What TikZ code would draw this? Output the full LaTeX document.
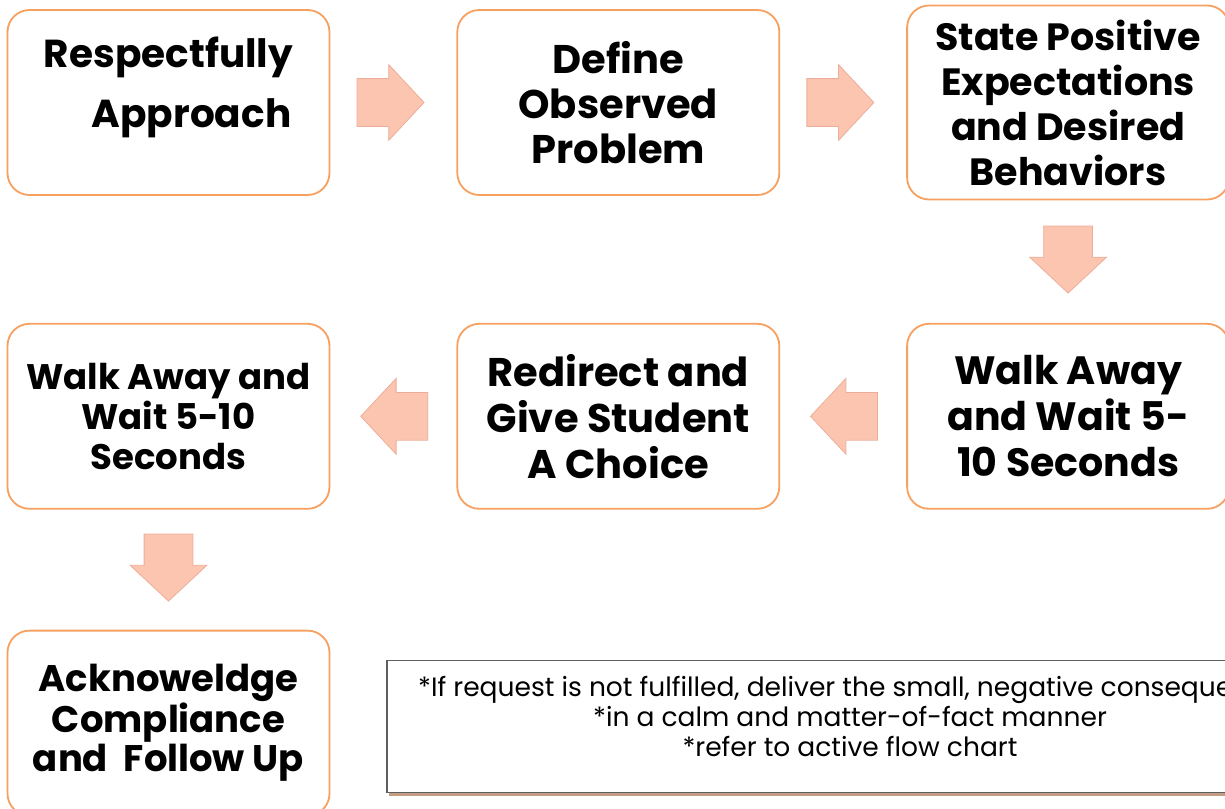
\documentclass[tikz,border=0pt]{standalone}
\usepackage{fontspec}
\setmainfont{Poppins}
\usepackage{xcolor}
\usetikzlibrary{shapes.arrows, positioning, calc, shadows}

\definecolor{boxedge}{RGB}{247,160,96}
\definecolor{arrowfill}{RGB}{251,197,176}
\definecolor{arrowedge}{RGB}{236,174,154}
\definecolor{noteedge}{RGB}{95,95,95}
\definecolor{noteshadow}{RGB}{196,156,132}

\begin{document}
\begin{tikzpicture}[
    x=1pt, y=-1pt,
    node distance=126pt,
    stepbox/.style={rectangle, draw=boxedge, line width=1.8pt, fill=white, rounded corners=22pt, minimum width=322pt, minimum height=185pt, align=center, inner sep=0pt},
    blockarrow/.style={single arrow, draw=arrowedge, fill=arrowfill, line width=0.8pt, minimum height=67pt, single arrow head extend=14pt, single arrow tip angle=94},
    harrow/.style={blockarrow, inner xsep=0pt, inner ysep=23.5pt},
    varrow/.style={blockarrow, inner xsep=24pt, inner ysep=0pt, shape border rotate=270, yshift=13.5pt},
    notebox/.style={rectangle, draw=noteedge, line width=1.2pt, fill=white, minimum width=926pt, minimum height=132pt, align=center, font={\fontsize{26.5}{30}\selectfont}, drop shadow={shadow xshift=2pt, shadow yshift=-3pt, fill=noteshadow, opacity=1}}
]
    \useasboundingbox (0,0) rectangle (1225,808);

    % Nodes
    \node (approach) [stepbox, font={\fontsize{39}{45}\selectfont\bfseries}] at (168.5,102.5) {\raisebox{14pt}[\height][\depth]{\begin{tabular}{@{}c@{}}Respectfully\\[15pt]\hspace*{46pt}Approach\end{tabular}}};
    \node (define) [stepbox, right=of approach, font={\fontsize{40}{45}\selectfont\bfseries}] {Define\\Observed\\Problem};
    \node (expect) [stepbox, right=of define, minimum height=194pt, font={\fontsize{38}{45}\selectfont\bfseries}] {State Positive\\Expectations\\and Desired\\Behaviors};
    \node (waitA) [stepbox, below=127pt of approach, font={\fontsize{35.5}{40}\selectfont\bfseries}] {Walk Away and\\Wait 5-10\\Seconds};
    \node (redirect) [stepbox, right=of waitA, font={\fontsize{40}{46}\selectfont\bfseries}] {Redirect and\\Give Student\\A Choice};
    \node (waitB) [stepbox, right=of redirect, font={\fontsize{39.5}{46}\selectfont\bfseries}] {Walk Away\\and Wait 5-\\10 Seconds};
    \node (comply) [stepbox, below=120pt of waitA, font={\fontsize{37}{39}\selectfont\bfseries}] {Acknoweldge\\Compliance\\and\ \ Follow Up};
    \node (note) [notebox] at (850,726.5) {\raisebox{6pt}[\height][\depth]{\begin{tabular}{@{}c@{}}*If request is not fulfilled, deliver the small, negative consequence\\{*}in a calm and matter-of-fact manner\\{*}refer to active flow chart\end{tabular}}};

    % Flows
    \node (f1) [harrow, xshift=-14pt] at ($(approach.east)!0.5!(define.west)$) {};
    \node (f2) [harrow, xshift=-14pt] at ($(define.east)!0.5!(expect.west)$) {};
    \node (f3) [varrow] at ($(expect.south)!0.5!(waitB.north)$) {};
    \node (f4) [harrow, shape border rotate=180, xshift=12pt] at ($(waitB.west)!0.5!(redirect.east)$) {};
    \node (f5) [harrow, shape border rotate=180, xshift=12pt] at ($(redirect.west)!0.5!(waitA.east)$) {};
    \node (f6) [varrow] at ($(waitA.south)!0.5!(comply.north)$) {};

\end{tikzpicture}
\end{document}
